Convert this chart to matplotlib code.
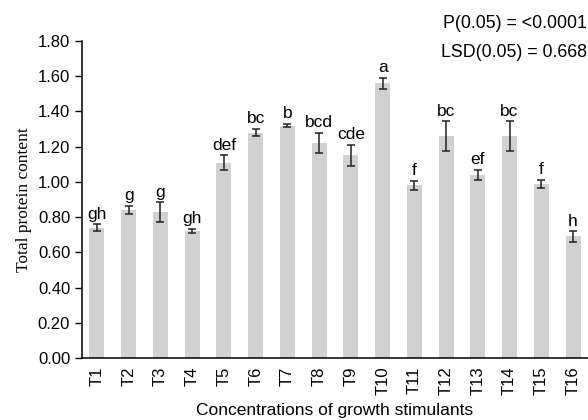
import matplotlib
matplotlib.use("Agg")
import matplotlib.pyplot as plt

treatments = ["T%d" % i for i in range(1, 17)]
protein = [0.74, 0.84, 0.83, 0.72, 1.11, 1.28, 1.32, 1.22,
           1.15, 1.56, 0.98, 1.26, 1.04, 1.26, 0.99, 0.69]
errors = [0.02, 0.025, 0.055, 0.012, 0.04, 0.022, 0.008, 0.058,
          0.06, 0.03, 0.025, 0.084, 0.027, 0.084, 0.023, 0.03]
letters = ["gh", "g", "g", "gh", "def", "bc", "b", "bcd",
           "cde", "a", "f", "bc", "ef", "bc", "f", "h"]
yticks = [0.0, 0.2, 0.4, 0.6, 0.8, 1.0, 1.2, 1.4, 1.6, 1.8]

plt.rcParams['font.family'] = ['Liberation Sans', 'DejaVu Sans']

fig = plt.figure(figsize=(5.88, 4.2), dpi=100)
ax = fig.add_axes([0.1395, 0.1476, 0.8605, 0.7548])

x = list(range(len(treatments)))
ax.bar(x, protein, width=0.47, color="#d0d1d3")
ax.errorbar(x, protein, yerr=errors, fmt="none", ecolor="#222222",
            elinewidth=1.1, capsize=3, capthick=1.1)

for xi, v, e, lab in zip(x, protein, errors, letters):
    ax.text(xi, v + e + 0.015, lab, ha="center", va="bottom", fontsize=12.5)

ax.set_xlim(-0.47, 15.47)
ax.set_ylim(0, 1.8)
ax.set_yticks(yticks)
ax.set_yticklabels(["%.2f" % t for t in yticks], fontsize=12)
ax.set_xticks(x)
ax.set_xticklabels(treatments, rotation=90, fontsize=12)
ax.tick_params(axis="x", length=0, pad=6)
ax.tick_params(axis="y", length=5, width=1, direction="out")

for s in ["top", "right"]:
    ax.spines[s].set_visible(False)
ax.spines["left"].set_linewidth(1.1)
ax.spines["bottom"].set_linewidth(1.1)

ax.set_ylabel("Total protein content", family="Liberation Serif", fontsize=12.5)
ax.set_xlabel("Concentrations of growth stimulants", fontsize=12.5, labelpad=6)

fig.text(0.998, 0.945, "P(0.05) = <0.0001", ha="right", va="center", fontsize=12.8)
fig.text(0.998, 0.875, "LSD(0.05) = 0.668", ha="right", va="center", fontsize=12.8)

fig.savefig("out.png", dpi=100)
